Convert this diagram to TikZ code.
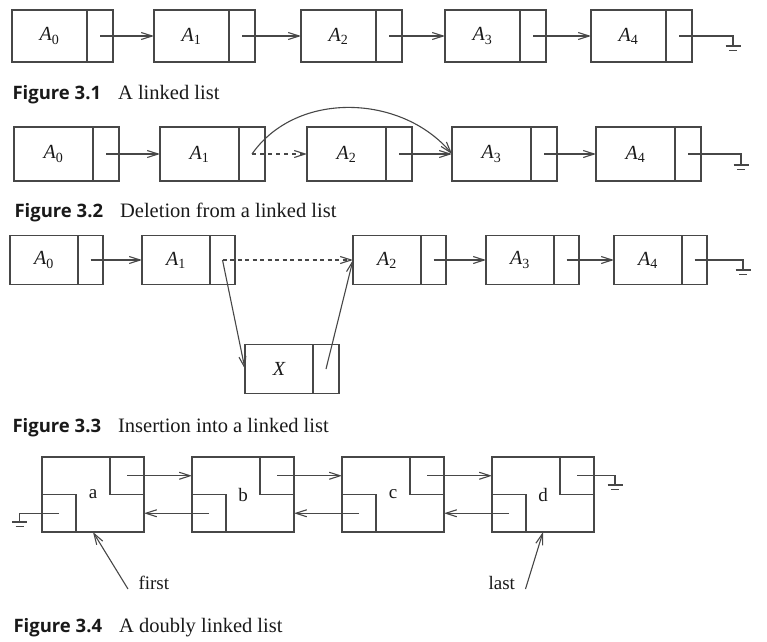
\documentclass[tikz,border=0pt]{standalone}
\usepackage{fontspec}
\setmainfont{Liberation Serif}
\newfontfamily\capfont{Open Sans}
\usetikzlibrary{positioning, calc, arrows.meta}
\colorlet{ink}{black!72}

\begin{document}
\begin{tikzpicture}[x=1pt, y=-1pt, line width=1.1pt, color=ink,
    >={Straight Barb[length=11pt, width=7pt]},
    every node/.style={text=black!90},
    cell/.style 2 args={draw, rectangle, minimum width=#1, minimum height=#2, inner sep=0pt, outer sep=0pt},
    elem/.style={font=\fontsize{20}{24}\selectfont\itshape},
    caption/.style={anchor=base west, inner sep=0pt, font=\fontsize{20.5}{24}\selectfont},
    tag/.style={anchor=base west, inner sep=0pt, font=\fontsize{19}{22}\selectfont},
    dlbox/.style={draw, rectangle, minimum width=102pt, minimum height=75pt, inner sep=0pt, outer sep=0pt, font=\fontsize{19}{22}\selectfont},
    dlcell/.style={draw, rectangle, minimum width=34pt, minimum height=37.5pt, inner sep=0pt, outer sep=0pt},
    earth/.pic={\draw (-7.5,0) -- (7.5,0); \draw (-4,4.5) -- (4,4.5);}]
  \useasboundingbox (0,0) rectangle (767,641);

  % Figure 3.1
  \foreach \i/\xx in {0/12, 1/154, 2/301, 3/445, 4/591} {
    \node (list\i) [cell={75pt}{52pt}, elem, anchor=west] at (\xx,36) {A\textsubscript{\upshape\i}};
    \node (next\i) [cell={26pt}{52pt}, right=0pt of list\i] {};
  }
  \foreach \i/\j in {0/1, 1/2, 2/3, 3/4}
    \draw [->] (next\i.center) -- (list\j.west);
  \coordinate (end1) at (733,46);
  \draw (next4.center) -| (end1);
  \pic at (end1) {earth};
  \node (cap1) [caption] at (12,99) {{\capfont\bfseries\fontsize{18.5}{22}\selectfont Figure 3.1}\hspace{17pt}A linked list};

  % Figure 3.2
  \foreach \i/\xx in {0/14, 1/160, 2/307, 3/452, 4/596} {
    \node (del\i) [cell={79pt}{54pt}, elem, anchor=west] at (\xx,154) {A\textsubscript{\upshape\i}};
    \node (delnext\i) [cell={26pt}{54pt}, right=0pt of del\i] {};
  }
  \foreach \i/\j in {0/1, 2/3, 3/4}
    \draw [->] (delnext\i.center) -- (del\j.west);
  \draw [->, dash pattern=on 4pt off 4pt] (delnext1.center) -- (del2.west);
  \draw [->] (delnext1.center) to[out=55, in=130] (del3.west);
  \coordinate (end2) at (741,165);
  \draw (delnext4.center) -| (end2);
  \pic at (end2) {earth};
  \node (cap2) [caption] at (14,217) {{\capfont\bfseries\fontsize{18.5}{22}\selectfont Figure 3.2}\hspace{17pt}Deletion from a linked list};

  % Figure 3.3
  \foreach \i/\xx in {0/10, 1/142, 2/353, 3/486, 4/614} {
    \node (ins\i) [cell={68pt}{49pt}, elem, anchor=west] at (\xx,260) {A\textsubscript{\upshape\i}};
    \node (insnext\i) [cell={25pt}{49pt}, right=0pt of ins\i] {};
  }
  \node (x) [cell={68pt}{49pt}, elem, anchor=west] at (245,369) {X};
  \node (xnext) [cell={26pt}{49pt}, right=0pt of x] {};
  \foreach \i/\j in {0/1, 2/3, 3/4}
    \draw [->] (insnext\i.center) -- (ins\j.west);
  \draw [->, dash pattern=on 4pt off 3.5pt] (insnext1.center) -- (ins2.west);
  \draw [->] (insnext1.center) -- (x.west);
  \draw [->] (xnext.center) -- (ins2.west);
  \coordinate (end3) at (743,270);
  \draw (insnext4.center) -| (end3);
  \pic at (end3) {earth};
  \node (cap3) [caption] at (12,432) {{\capfont\bfseries\fontsize{18.5}{22}\selectfont Figure 3.3}\hspace{17pt}Insertion into a linked list};

  % Figure 3.4
  \foreach \n/\xx in {a/93, b/243, c/393, d/543} {
    \node (\n) [dlbox] at (\xx,494.5) {\n};
    \node (fwd-\n) [dlcell, anchor=north east] at (\n.north east) {};
    \node (bwd-\n) [dlcell, anchor=south west] at (\n.south west) {};
  }
  \foreach \p/\q in {a/b, b/c, c/d} {
    \draw [->] (fwd-\p.center) -- (fwd-\p.center -| \q.west);
    \draw [->] (bwd-\q.center) -- (bwd-\q.center -| \p.east);
  }
  \coordinate (end4a) at (19.5,522);
  \draw (bwd-a.center) -| (end4a);
  \pic at (end4a) {earth};
  \coordinate (end4d) at (615,485);
  \draw (fwd-d.center) -| (end4d);
  \pic at (end4d) {earth};
  \node (first) [tag] at (138,589) {first};
  \draw [->] ([xshift=-10pt]first.base west) -- (a.south);
  \node (last) [tag] at (488,589) {last};
  \draw [->] ([xshift=10pt]last.base east) -- (d.south);
  \node (cap4) [caption] at (13,632) {{\capfont\bfseries\fontsize{18.5}{22}\selectfont Figure 3.4}\hspace{17pt}A doubly linked list};
\end{tikzpicture}
\end{document}
